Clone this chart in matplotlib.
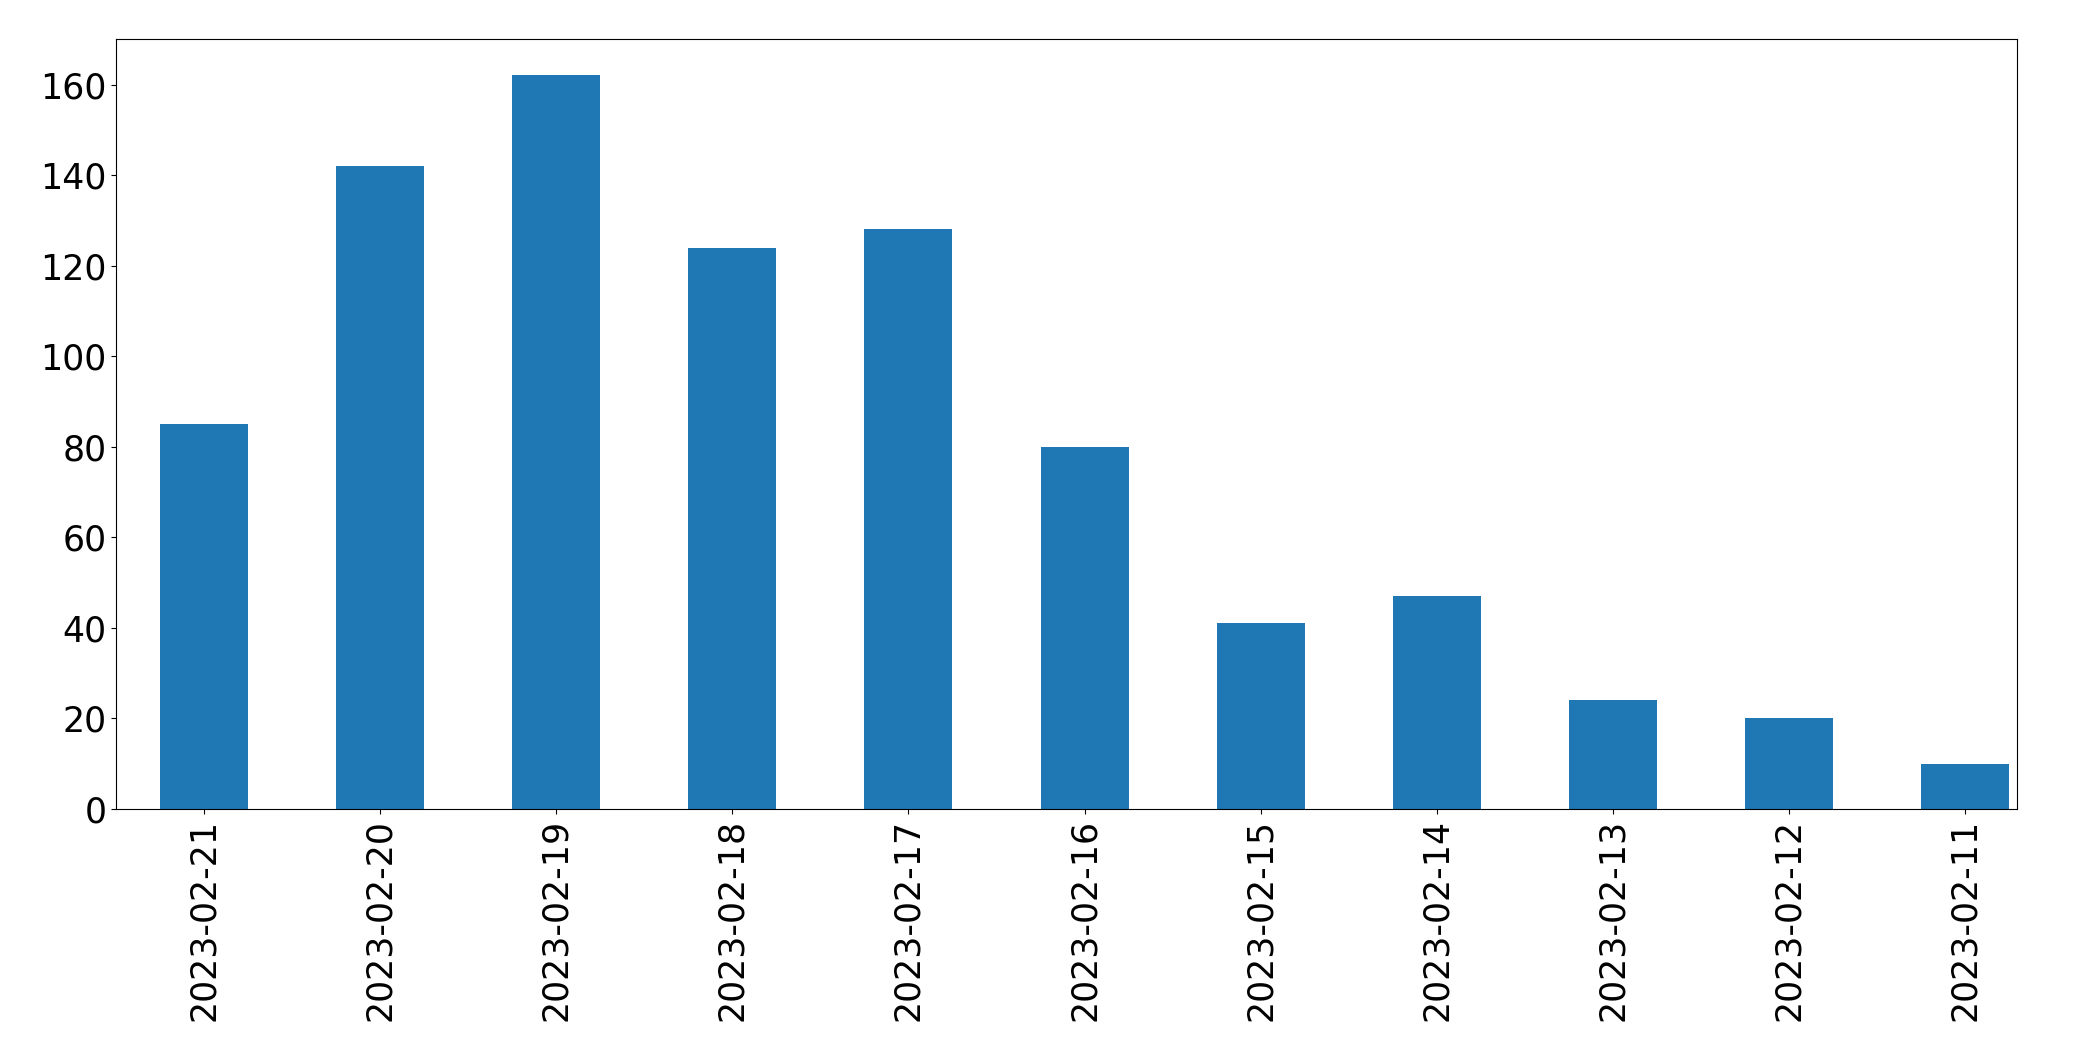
import matplotlib
matplotlib.use("Agg")
import matplotlib.pyplot as plt
import pandas as pd

dates = ["2023-02-21", "2023-02-20", "2023-02-19", "2023-02-18", "2023-02-17",
         "2023-02-16", "2023-02-15", "2023-02-14", "2023-02-13", "2023-02-12",
         "2023-02-11"]
counts = [85, 142, 162, 124, 128, 80, 41, 47, 24, 20, 10]

s = pd.Series(counts, index=dates)

fig = plt.figure(figsize=(20.93, 10.61), dpi=100)
ax = fig.add_axes([0.0555, 0.2375, 0.9082, 0.7255])
s.plot(kind="bar", ax=ax, color="#1f77b4", width=0.5)
ax.tick_params(axis="both", labelsize=25)
ax.set_ylim(0, 170)
ax.set_xlim(-0.5, len(dates) - 1 + 0.296)
fig.savefig("out.png", dpi=100)
